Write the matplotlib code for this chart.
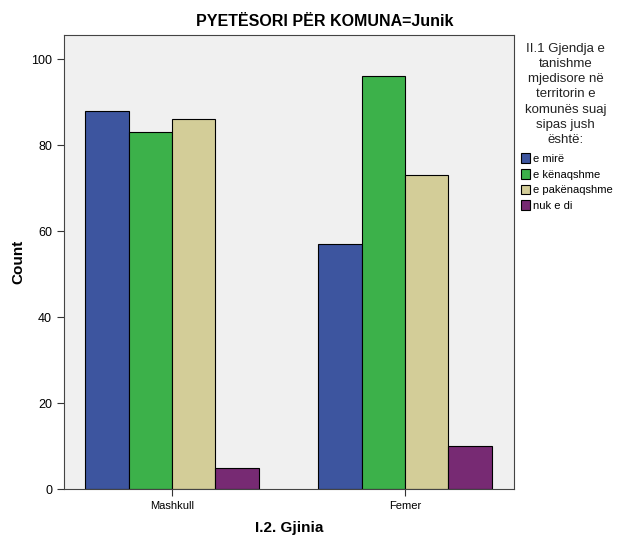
import numpy as np
import matplotlib
matplotlib.use('Agg')
from matplotlib import pyplot as plt

plt.rcParams['font.family'] = ['Liberation Sans', 'DejaVu Sans']

genders = ['Mashkull', 'Femer']
categories = ['e mirë', 'e kënaqshme', 'e pakënaqshme', 'nuk e di']
e_mire = [88, 57]
e_kenaqshme = [83, 96]
e_pakenaqshme = [86, 73]
nuk_e_di = [5, 10]
colors = ['#3d559f', '#3cb14a', '#d3cd98', '#772a73']

series = [e_mire, e_kenaqshme, e_pakenaqshme, nuk_e_di]

fig = plt.figure(figsize=(6.17, 5.38), dpi=100)
ax = fig.add_axes([0.1037, 0.091, 0.7293, 0.844])
ax.set_facecolor('#f0f0f0')

x = np.arange(len(genders))
w = 0.186
for i, (vals, c, lab) in enumerate(zip(series, colors, categories)):
    ax.bar(x + (i - 1.5) * w, vals, w, color=c, edgecolor='black', linewidth=0.8, label=lab)

ax.set_xlim(-0.464, 1.468)
ax.set_ylim(0, 105.6)
ax.set_yticks([0, 20, 40, 60, 80, 100])
ax.set_xticks(x)
ax.set_xticklabels(genders, fontsize=8)
ax.tick_params(axis='y', labelsize=9, length=5, color='#333333')
ax.tick_params(axis='x', length=5, color='#333333')
for s in ax.spines.values():
    s.set_color('#444444')
    s.set_linewidth(0.8)

ax.set_ylabel('Count', fontsize=11, fontweight='bold')
ax.set_xlabel('I.2. Gjinia', fontsize=11, fontweight='bold', labelpad=7)
fig.text(0.527, 0.96, 'PYETËSORI PËR KOMUNA=Junik', ha='center', va='center',
         fontsize=11.5, fontweight='bold')

fig.text(0.917, 0.92, 'II.1 Gjendja e\ntanishme\nmjedisore në\nterritorin e\nkomunës suaj\nsipas jush\nështë:',
         ha='center', va='top', fontsize=9.5, color='#222222', linespacing=1.35)

leg = ax.legend(loc='upper left', bbox_to_anchor=(1.0, 0.754), frameon=False,
                fontsize=8, handlelength=0.85, handleheight=0.95, handletextpad=0.3,
                labelspacing=0.45, borderaxespad=0.2)

fig.savefig('out.png', dpi=100)
